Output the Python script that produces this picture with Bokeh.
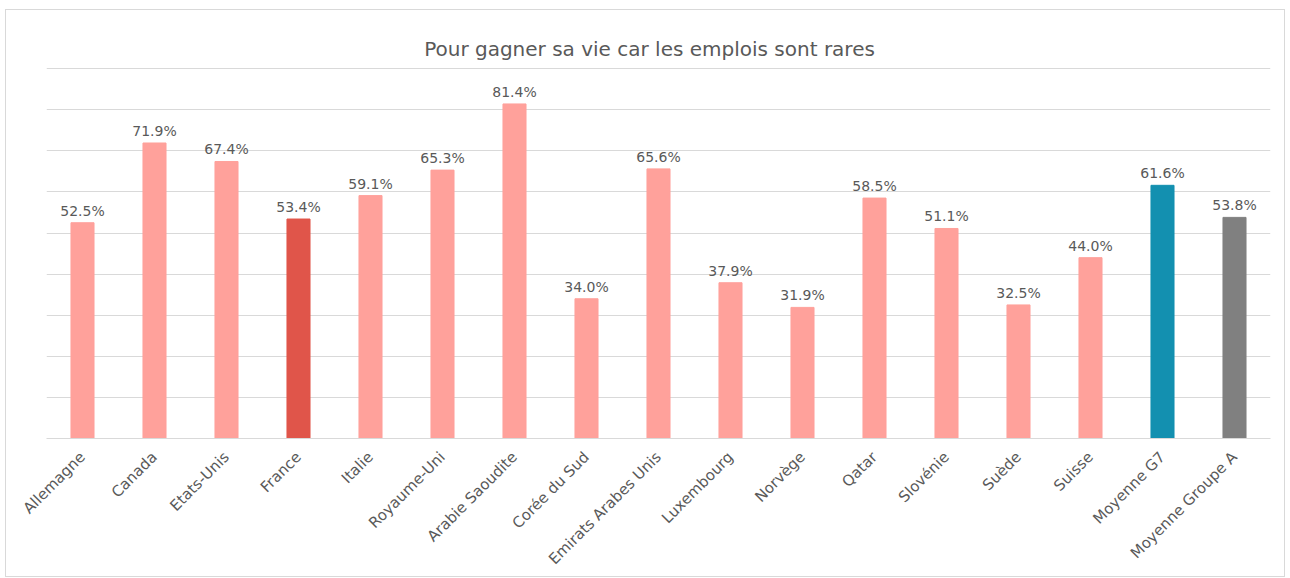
from bokeh.plotting import figure
from bokeh.models import ColumnDataSource, FixedTicker, Label
from bokeh.core.properties import value
from bokeh.embed import file_html
from bokeh.resources import INLINE
import math

categories = ["Allemagne", "Canada", "Etats-Unis", "France", "Italie", "Royaume-Uni",
              "Arabie Saoudite", "Corée du Sud", "Emirats Arabes Unis", "Luxembourg",
              "Norvège", "Qatar", "Slovénie", "Suède", "Suisse", "Moyenne G7",
              "Moyenne Groupe A"]
values = [52.5, 71.9, 67.4, 53.4, 59.1, 65.3, 81.4, 34.0, 65.6, 37.9, 31.9, 58.5,
          51.1, 32.5, 44.0, 61.6, 53.8]
colors = ["#FFA19B"] * 3 + ["#E0554A"] + ["#FFA19B"] * 11 + ["#1390B0", "#808080"]
labels = [f"{v:.1f}%" for v in values]
grid_ticks = [0, 10, 20, 30, 40, 50, 60, 70, 80, 90]
title_text = "Pour gagner sa vie car les emplois sont rares"

FONT = "DejaVu Sans"
TXT = "#595959"

src = ColumnDataSource(dict(cat=categories, val=values, col=colors, lab=labels))

p = figure(x_range=categories, y_range=(0, 100), width=1280, height=568,
           output_backend="svg", toolbar_location=None,
           min_border_left=40, min_border_right=16, min_border_bottom=140,
           min_border_top=17)
p.styles = {"border": "1px solid #d9d9d9", "margin-left": "5px", "margin-top": "9px"}

p.vbar(x="cat", top="val", width=0.32, color="col", source=src)
p.text(x="cat", y="val", text="lab", source=src, text_align="center",
       text_baseline="alphabetic", y_offset=-12, text_font=value(FONT),
       text_font_size="14px", text_color=TXT)

p.add_layout(Label(x=8.375, y=94.87, text=title_text, text_align="center",
                   text_baseline="middle", text_font=FONT, text_font_size="20px",
                   text_color=TXT))

p.yaxis.visible = False
p.xgrid.visible = False
p.ygrid.ticker = FixedTicker(ticks=grid_ticks)
p.ygrid.grid_line_color = "#d9d9d9"
p.ygrid.grid_line_width = 1
p.xaxis.axis_line_color = "#d9d9d9"
p.xaxis.major_tick_line_color = None
p.xaxis.minor_tick_line_color = None
p.xaxis.major_label_orientation = math.pi / 4
p.xaxis.major_label_text_font = FONT
p.xaxis.major_label_text_font_size = "15px"
p.xaxis.major_label_text_color = TXT
p.xaxis.major_label_standoff = 10
p.outline_line_color = None

open("out.html", "w").write(file_html(p, INLINE))
